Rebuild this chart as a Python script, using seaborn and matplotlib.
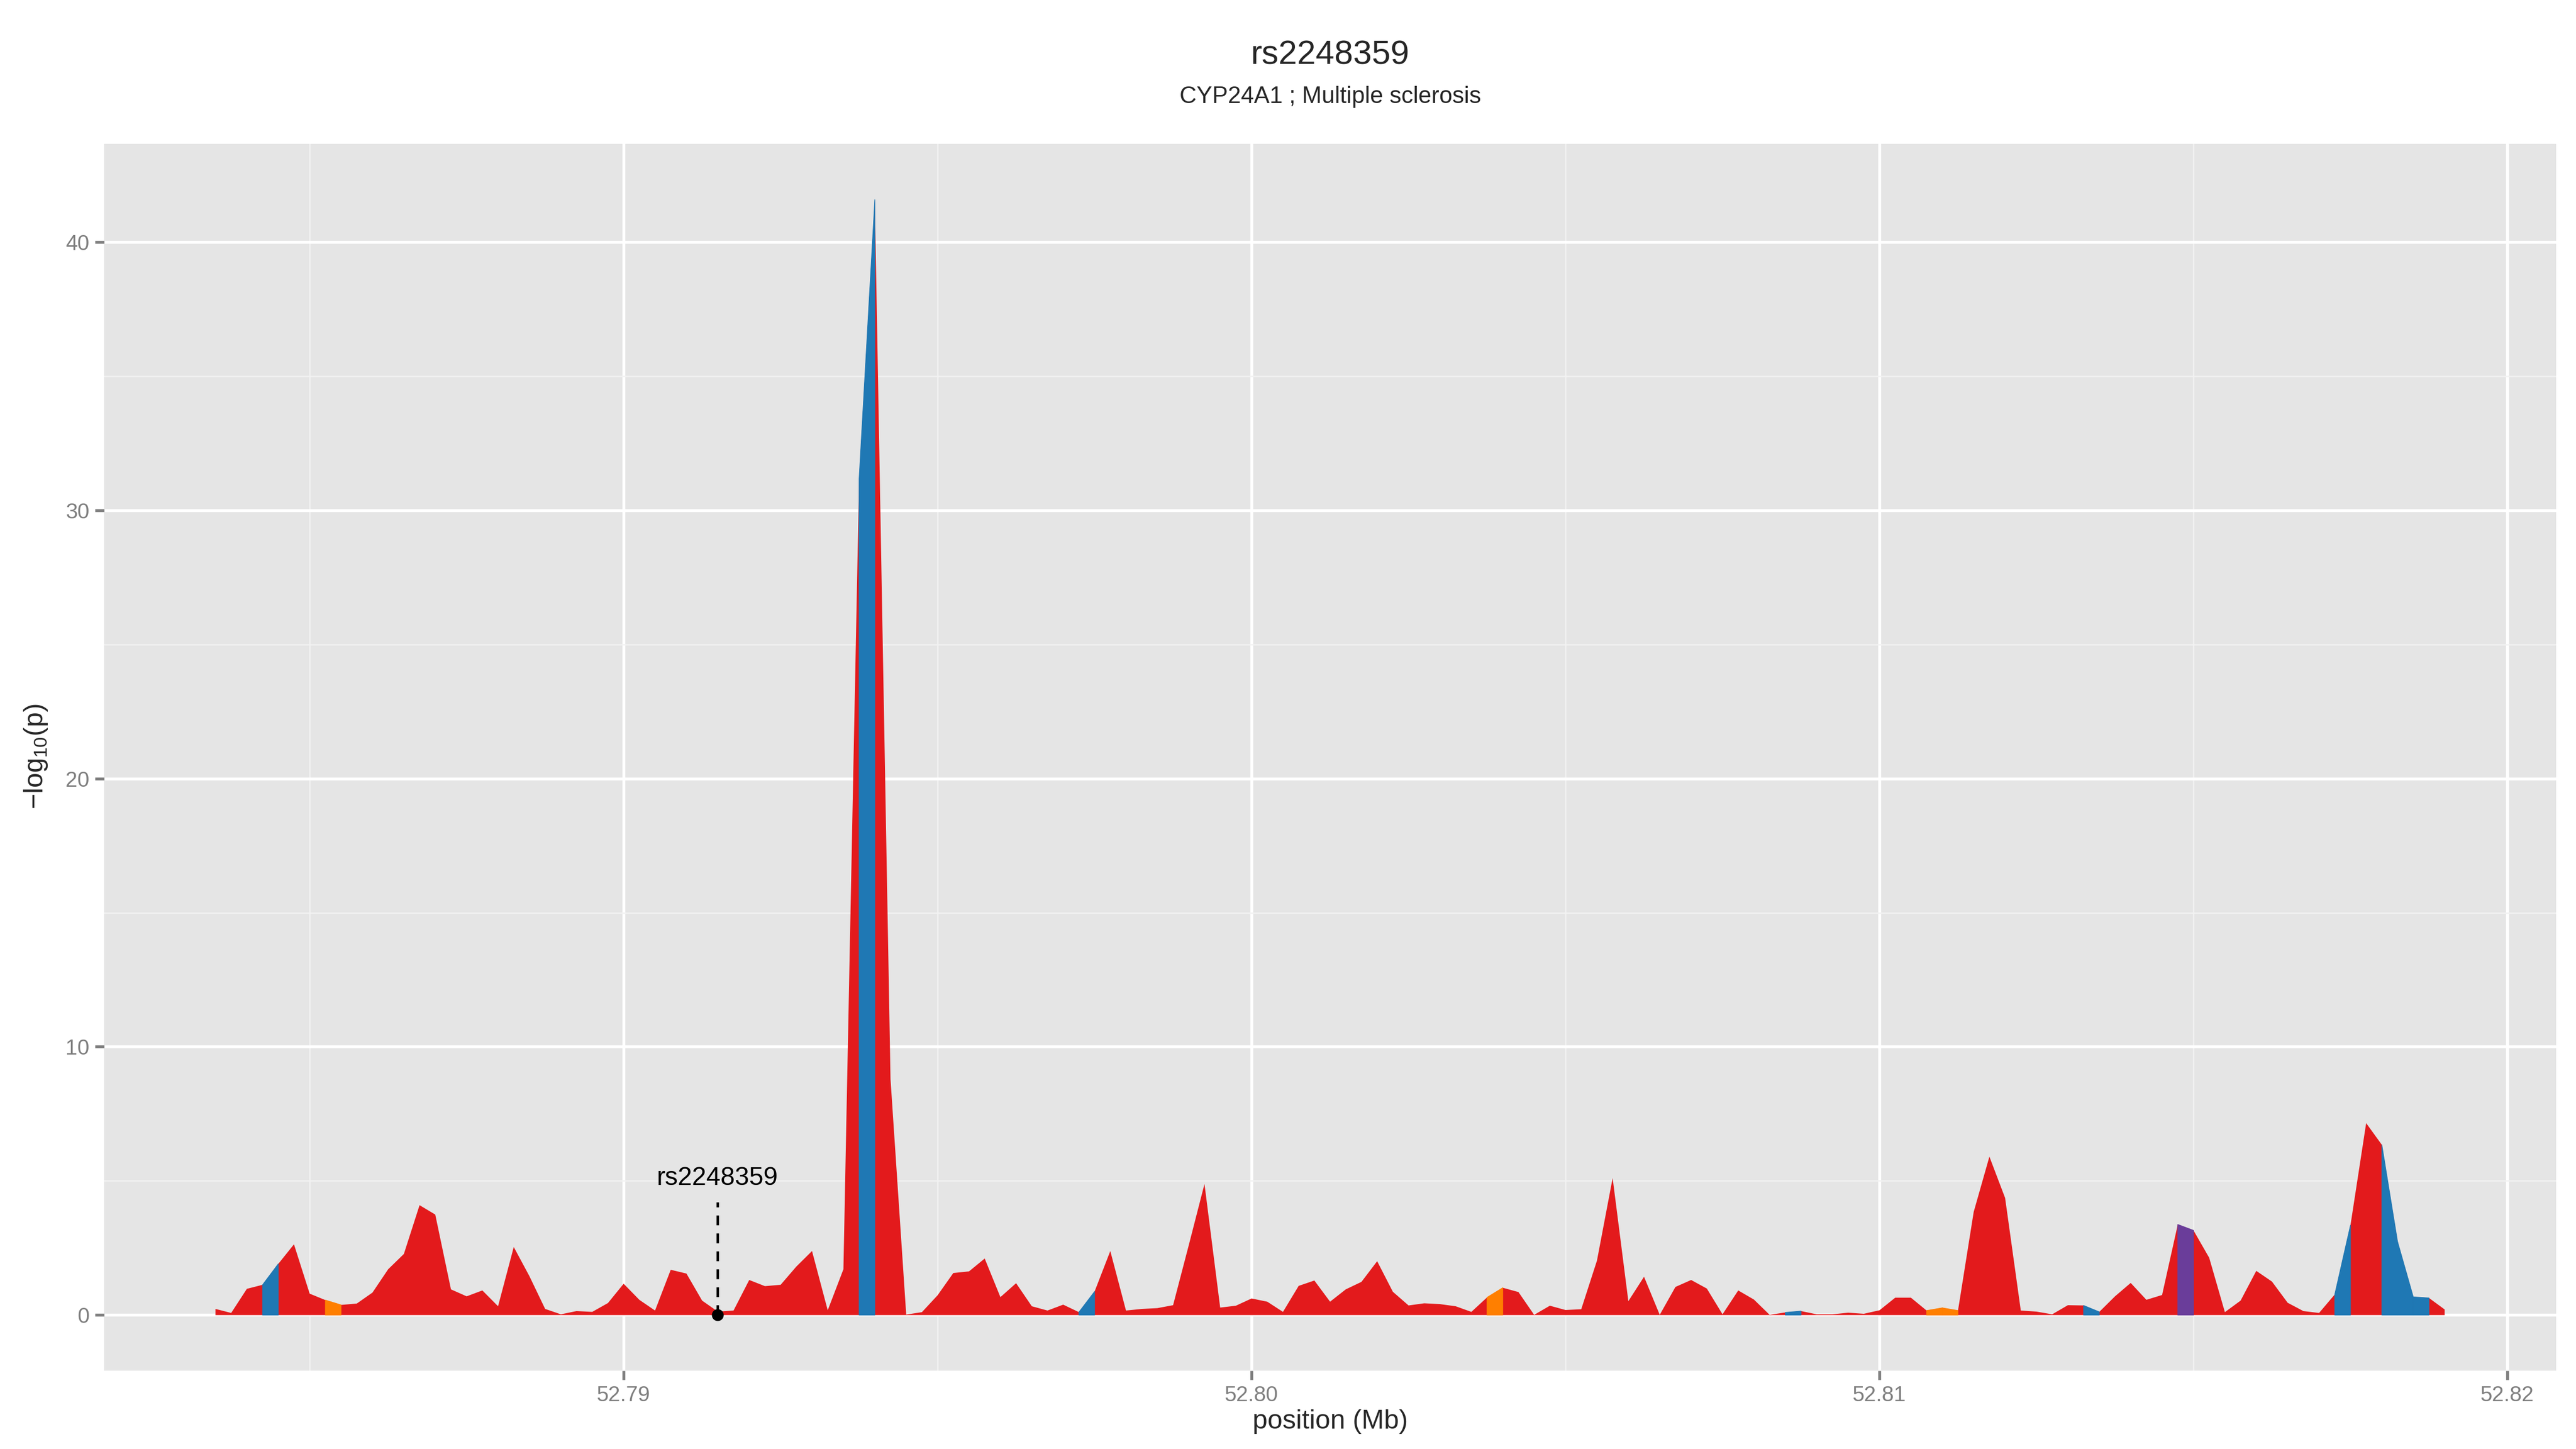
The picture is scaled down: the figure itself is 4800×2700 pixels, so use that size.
import matplotlib
matplotlib.use("Agg")
import matplotlib.pyplot as plt
import seaborn as sns
import pandas as pd
from matplotlib.ticker import MultipleLocator

# SNP positions (Mb)
pos_mb = [
    52.78350, 52.78375, 52.78400, 52.78425, 52.78450, 52.78475, 52.78500, 52.78525,
    52.78550, 52.78575, 52.78600, 52.78625, 52.78650, 52.78675, 52.78700, 52.78725,
    52.78750, 52.78775, 52.78800, 52.78825, 52.78850, 52.78875, 52.78900, 52.78925,
    52.78950, 52.78975, 52.79000, 52.79025, 52.79050, 52.79075, 52.79100, 52.79125,
    52.79150, 52.79175, 52.79200, 52.79225, 52.79250, 52.79275, 52.79300, 52.79325,
    52.79350, 52.79375, 52.79400, 52.79425, 52.79450, 52.79475, 52.79500, 52.79525,
    52.79550, 52.79575, 52.79600, 52.79625, 52.79650, 52.79675, 52.79700, 52.79725,
    52.79750, 52.79775, 52.79800, 52.79825, 52.79850, 52.79875, 52.79900, 52.79925,
    52.79950, 52.79975, 52.80000, 52.80025, 52.80050, 52.80075, 52.80100, 52.80125,
    52.80150, 52.80175, 52.80200, 52.80225, 52.80250, 52.80275, 52.80300, 52.80325,
    52.80350, 52.80375, 52.80400, 52.80425, 52.80450, 52.80475, 52.80500, 52.80525,
    52.80550, 52.80575, 52.80600, 52.80625, 52.80650, 52.80675, 52.80700, 52.80725,
    52.80750, 52.80775, 52.80800, 52.80825, 52.80850, 52.80875, 52.80900, 52.80925,
    52.80950, 52.80975, 52.81000, 52.81025, 52.81050, 52.81075, 52.81100, 52.81125,
    52.81150, 52.81175, 52.81200, 52.81225, 52.81250, 52.81275, 52.81300, 52.81325,
    52.81350, 52.81375, 52.81400, 52.81425, 52.81450, 52.81475, 52.81500, 52.81525,
    52.81550, 52.81575, 52.81600, 52.81625, 52.81650, 52.81675, 52.81700, 52.81725,
    52.81750, 52.81775, 52.81800, 52.81825, 52.81850, 52.81875, 52.81900,
]

# -log10(p) at each SNP
neglog_p = [
    0.23, 0.08, 0.98, 1.13, 1.91, 2.64, 0.80, 0.56, 0.38, 0.43,
    0.84, 1.71, 2.28, 4.10, 3.75, 0.96, 0.70, 0.92, 0.33, 2.54,
    1.45, 0.23, 0.03, 0.15, 0.12, 0.45, 1.17, 0.57, 0.17, 1.69,
    1.55, 0.54, 0.13, 0.17, 1.31, 1.08, 1.13, 1.81, 2.39, 0.18,
    1.71, 31.2, 41.6, 8.8, 0.02, 0.11, 0.74, 1.57, 1.63, 2.11,
    0.67, 1.19, 0.33, 0.17, 0.39, 0.11, 0.88, 2.39, 0.17, 0.23,
    0.26, 0.37, 2.61, 4.89, 0.28, 0.35, 0.62, 0.50, 0.12, 1.09,
    1.29, 0.50, 0.96, 1.24, 2.01, 0.87, 0.36, 0.44, 0.41, 0.33,
    0.12, 0.66, 1.02, 0.86, 0.01, 0.35, 0.19, 0.22, 2.03, 5.11,
    0.52, 1.43, 0.01, 1.05, 1.31, 0.99, 0.03, 0.92, 0.58, 0.01,
    0.10, 0.15, 0.03, 0.03, 0.09, 0.05, 0.18, 0.65, 0.65, 0.17,
    0.27, 0.17, 3.85, 5.91, 4.37, 0.17, 0.13, 0.03, 0.37, 0.36,
    0.12, 0.70, 1.20, 0.57, 0.75, 3.38, 3.16, 2.14, 0.11, 0.54,
    1.65, 1.25, 0.46, 0.15, 0.08, 0.77, 3.35, 7.16, 6.35, 2.74,
    0.68, 0.64, 0.21,
]

# LD class of each SNP (0 red, 1 blue, 2 orange, 3 purple)
ld_class = [
    0, 0, 0, 1, 0, 0, 0, 2, 0, 0, 0, 0, 0, 0, 0, 0, 0, 0, 0, 0,
    0, 0, 0, 0, 0, 0, 0, 0, 0, 0, 0, 0, 0, 0, 0, 0, 0, 0, 0, 0,
    0, 1, 0, 0, 0, 0, 0, 0, 0, 0, 0, 0, 0, 0, 0, 1, 0, 0, 0, 0,
    0, 0, 0, 0, 0, 0, 0, 0, 0, 0, 0, 0, 0, 0, 0, 0, 0, 0, 0, 0,
    0, 2, 0, 0, 0, 0, 0, 0, 0, 0, 0, 0, 0, 0, 0, 0, 0, 0, 0, 0,
    1, 0, 0, 0, 0, 0, 0, 0, 0, 2, 2, 0, 0, 0, 0, 0, 0, 0, 0, 1,
    0, 0, 0, 0, 0, 3, 0, 0, 0, 0, 0, 0, 0, 0, 0, 1, 0, 0, 1, 1,
    1, 0, 0,
]
class_colors = ["#E31A1C", "#1F78B4", "#FF7F00", "#6A3D9A"]

lead_snp = "rs2248359"
lead_pos = 52.7915
lead_val = 0.0
label_y = 5.1
stem_top = 4.2

title = "rs2248359"
subtitle = "CYP24A1 ; Multiple sclerosis"

df = pd.DataFrame({"pos": pos_mb, "p": neglog_p, "ld": ld_class})

sns.set_theme(style="darkgrid", rc={
    "axes.facecolor": "#E5E5E5",
    "grid.color": "white",
    "axes.edgecolor": "#E5E5E5",
})
plt.rcParams["font.family"] = ["Liberation Sans", "DejaVu Sans"]
plt.rcParams["mathtext.default"] = "regular"

fig = plt.figure(figsize=(16, 9), dpi=300)
ax = fig.add_axes([0.0404, 0.0541, 0.9519, 0.8468])

# base area, then overlay coloured intervals
ax.fill_between(df["pos"], 0, df["p"], color=class_colors[0], lw=0, zorder=2)
for i in range(len(df) - 1):
    c = df["ld"].iloc[i]
    if c == 0:
        continue
    seg = df.iloc[i:i + 2]
    ax.fill_between(seg["pos"], 0, seg["p"], color=class_colors[c],
                    lw=0.3, edgecolor=class_colors[c], zorder=3)

# lead SNP marker
ax.plot([lead_pos, lead_pos], [lead_val, stem_top], color="black",
        lw=1.1, ls=(0, (4, 3.3)), zorder=4)
sns.scatterplot(x=[lead_pos], y=[lead_val], color="black", s=28,
                edgecolor="black", linewidth=0, ax=ax, zorder=5)
ax.text(lead_pos, label_y, lead_snp, ha="center", va="center", fontsize=11.5,
        color="black", zorder=5)

ax.set_xlim(52.78173, 52.82078)
ax.set_ylim(-2.08, 43.68)
ax.xaxis.set_minor_locator(MultipleLocator(0.005))
ax.yaxis.set_minor_locator(MultipleLocator(5))
ax.set_xticks([52.79, 52.80, 52.81, 52.82])
ax.set_xticklabels(["52.79", "52.80", "52.81", "52.82"])
ax.set_yticks([0, 10, 20, 30, 40])
ax.set_yticklabels(["0", "10", "20", "30", "40"])

ax.grid(which="major", color="white", lw=1.3)
ax.grid(which="minor", color="#F2F2F2", lw=0.6)
ax.set_axisbelow(True)
for s in ax.spines.values():
    s.set_visible(False)
ax.tick_params(axis="both", which="major", length=4, width=1.3, color="#7F7F7F",
               labelcolor="#7F7F7F", labelsize=9.6, pad=2.5,
               bottom=True, left=True)
ax.tick_params(axis="both", which="minor", length=0)
ax.set_xlabel("")
ax.set_ylabel("")

# titles are centred over the panel, not the figure
panel_cx = 0.0404 + 0.9519 / 2
fig.text(panel_cx, 0.962, title, ha="center", va="center", fontsize=15)
fig.text(panel_cx, 0.933, subtitle, ha="center", va="center", fontsize=10.5)
fig.text(panel_cx, 0.0188, "position (Mb)", ha="center", va="center", fontsize=12)
fig.text(0.014, 0.478, "\u2212log$_{10}$(p)", ha="center", va="center",
         rotation=90, fontsize=12)

fig.savefig("out.png", dpi=300)
